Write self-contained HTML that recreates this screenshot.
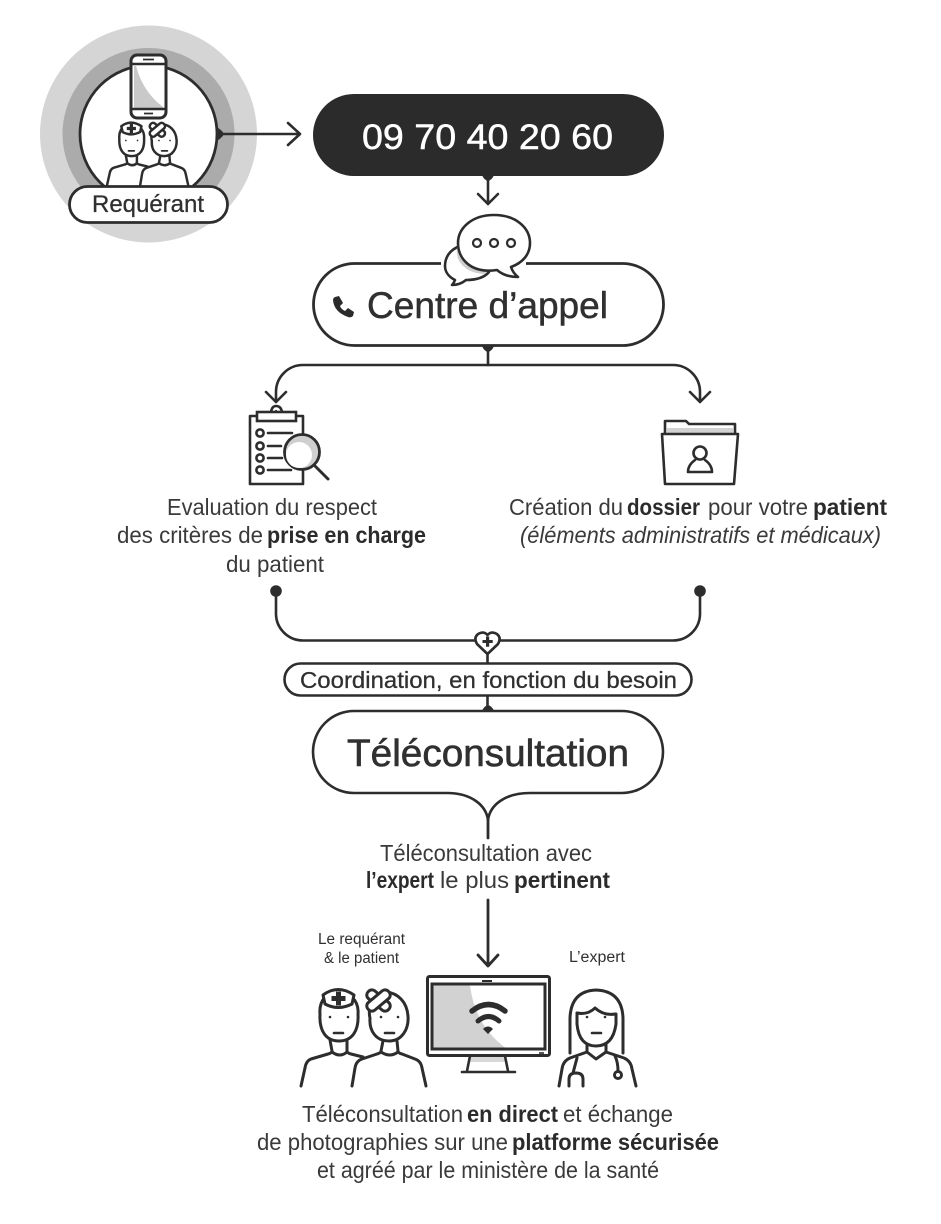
<!DOCTYPE html>
<html lang="fr"><head><meta charset="utf-8"><title>Diagramme</title>
<style>
html,body{margin:0;padding:0;background:#fff}
svg{display:block}
text{font-family:"Liberation Sans",sans-serif;fill:#303030}
.r{font-size:23px;fill:#3a3a3a}
.b{font-size:23px;font-weight:bold;fill:#2b2b2b}
.l{fill:none;stroke:#2d2d2d;stroke-width:2.6;stroke-linecap:round;stroke-linejoin:round}
.t{fill:none;stroke:#2d2d2d;stroke-width:var(--sw,3);stroke-linecap:round;stroke-linejoin:round}
</style></head><body>
<svg width="941" height="1224" viewBox="0 0 941 1224" xmlns="http://www.w3.org/2000/svg">
<defs>
<g id="pair">
  <path class="t" d="M325,997Q319,1004 320,1014C319,1031 326,1041 339,1041C352,1041 359,1031 358,1014Q359,1004 352,997"/>
  <path class="t" style="fill:#fff" d="M325,1004L323,995Q338,984 354,995L352,1004Q338,1011 325,1004Z"/>
  <path d="M336,991.500h5v4.500h4.500v5h-4.500v4.500h-5v-4.500h-4.500v-5h4.500z" fill="#2d2d2d"/>
  <path class="t" d="M330,1040L332,1051Q332,1053 328,1054L311,1059Q306,1061 305,1068L301,1086"/>
  <path class="t" d="M347,1040L347,1051Q347,1053 351,1054L363,1057"/>
  <path class="t" d="M332,1052Q340,1058 347,1052M381,1052Q390,1058 398,1052"/>
  <path class="t" d="M383,1041L381,1051Q381,1053 377,1054L362,1059Q356,1061 355,1068L352,1086"/>
  <path class="t" d="M397,1041L398,1051Q398,1053 402,1054L415,1059Q421,1061 422,1068L426,1086"/>
  <path class="t" style="fill:#fff" d="M372,1000Q368,1010 370,1018C369,1031 376,1041 389,1041C402,1041 409,1029 408,1016C407,1002 398,993 386,992Q378,992 372,1000Z"/>
  <g transform="rotate(40 378.500 1000.500)"><rect class="t" style="fill:#fff" x="365" y="995.500" width="27" height="10" rx="4.500"/></g>
  <g transform="rotate(-40 378.500 1000.500)"><rect class="t" style="fill:#fff" x="365" y="995.500" width="27" height="10" rx="4.500"/></g>
  <circle cx="330" cy="1017" r="1.300" fill="#2d2d2d"/><circle cx="348" cy="1017" r="1.300" fill="#2d2d2d"/>
  <circle cx="381" cy="1017" r="1.300" fill="#2d2d2d"/><circle cx="398" cy="1017" r="1.300" fill="#2d2d2d"/>
  <path class="l" d="M334,1033h9M385,1033h9"/>
</g>
</defs>

<!-- Requérant -->
<circle cx="148.500" cy="134" r="108.500" fill="#d5d5d5"/>
<circle cx="148.500" cy="134" r="86" fill="#ababab"/>
<circle cx="148.500" cy="134" r="68.500" fill="#fff" stroke="#2d2d2d" stroke-width="2.800"/>
<rect x="131" y="55" width="35" height="63" rx="6" fill="#fff" stroke="#2d2d2d" stroke-width="3"/>
<path d="M134,66V108H163V107Q143,92 136,66Z" fill="#c9c9c9"/>
<path d="M131.500,64H165.500M131.500,109H165.500" stroke="#2d2d2d" stroke-width="2.400"/>
<path d="M143,59.500h11M144,113.500h9" stroke="#2d2d2d" stroke-width="1.800"/>
<g transform="translate(107,186) scale(.65) translate(-301,-1087)" style="--sw:3.800"><use href="#pair"/></g>
<rect x="69.500" y="186.500" width="158" height="36" rx="18" fill="#fff" stroke="#2d2d2d" stroke-width="2.800"/>
<text x="92" y="212" font-size="24" textLength="112" lengthAdjust="spacingAndGlyphs" stroke="#303030" stroke-width=".3">Requérant</text>
<path d="M216.500,127Q222,130 224,134Q222,138 216.500,141Z" fill="#2d2d2d"/>
<path class="l" d="M218,134H300M288,123L300,134L288,145"/>

<!-- Phone number -->
<rect x="313" y="94" width="351" height="82" rx="41" fill="#2b2b2b"/>
<text x="362" y="149" font-size="35" style="fill:#fff;stroke:#fff;stroke-width:.5" textLength="251" lengthAdjust="spacingAndGlyphs">09 70 40 20 60</text>
<path d="M482,175H494Q492,180 488,181Q484,180 482,175Z" fill="#2d2d2d"/>
<path class="l" d="M488,176V204M478,194L488,204L498,194"/>

<!-- Centre d'appel -->
<rect x="313.500" y="263.500" width="350" height="82" rx="41" fill="#fff" stroke="#2d2d2d" stroke-width="2.800"/>
<rect x="441" y="258" width="85" height="10" fill="#fff"/>
<path class="l" style="fill:#fff" d="M460,246C449,250 445,258 445,266C445,272 449,277 455,280Q454,283 452,285Q460,285 466,280C476,280 484,278 489,272L470,245Z"/>
<path d="M457,248C455,260 464,273 484,274L490,270C470,270 460,262 458,245Z" fill="#cfcfcf"/>
<path class="l" style="fill:#fff" d="M494,215C516,215 530,228 530,243C530,255 522,263 511,267Q513,273 518,277Q505,277 497,270C470,274 458,258 458,243C458,228 472,215 494,215Z"/>
<circle cx="477" cy="243" r="4" fill="#fff" stroke="#2d2d2d" stroke-width="2.200"/>
<circle cx="494" cy="243" r="4" fill="#fff" stroke="#2d2d2d" stroke-width="2.200"/>
<circle cx="511" cy="243" r="4" fill="#fff" stroke="#2d2d2d" stroke-width="2.200"/>
<path d="M335,297l4,-1l4,7l-3,3q1,3 5,5l3,-3l6,4l-1,4q-2,2 -5,1q-14,-5 -15,-17q0,-2 2,-3z" fill="#2b2b2b"/>
<text x="367" y="318" font-size="37" textLength="241" lengthAdjust="spacingAndGlyphs" stroke="#303030" stroke-width=".5">Centre d’appel</text>

<!-- Branches -->
<path d="M482,346H494Q492,351 488,352Q484,351 482,346Z" fill="#2d2d2d"/>
<path class="l" d="M488,347V365M488,365H303A27,27 0 0 0 276,392V402M266,392L276,402L286,392"/>
<path class="l" d="M488,365H673A27,27 0 0 1 700,392V402M690,392L700,402L710,392"/>

<!-- Clipboard -->
<path class="l" d="M257,416H250V484H303V470M296,416H303V436"/>
<path class="l" d="M271,412Q272,406 276,406Q281,406 282,412"/>
<rect x="257" y="412" width="39" height="9" fill="#fff" stroke="#2d2d2d" stroke-width="2.600"/>
<circle cx="276" cy="411" r="1.100" fill="#2d2d2d"/>
<circle cx="260" cy="433" r="3.600" class="l"/><circle cx="260" cy="446" r="3.600" class="l"/><circle cx="260" cy="458" r="3.600" class="l"/><circle cx="260" cy="470" r="3.600" class="l"/>
<path class="l" d="M268,433H292M268,446H281M268,458H282M268,470H291"/>
<circle cx="302" cy="452" r="17.500" fill="#cfcfcf" stroke="#2d2d2d" stroke-width="2.800"/>
<circle cx="299" cy="455" r="13" fill="#fff"/>
<path class="l" style="stroke-width:3" d="M314,465L328,479"/>

<!-- Folder -->
<path d="M667,428H733V433H667Z" fill="#d2d2d2"/>
<path class="l" d="M665,433V421H686L689,424H735V433"/>
<path class="l" style="fill:#fff" d="M662,434H738L734,484H665Z"/>
<circle cx="700" cy="453" r="6.500" class="l"/>
<path class="l" d="M688,472Q688,465 695,460M712,472Q712,465 705,460M688,472H712"/>

<!-- Texts 1 -->
<text class="r" x="167" y="515" textLength="210" lengthAdjust="spacingAndGlyphs">Evaluation du respect</text>
<text class="r" x="117" y="543" textLength="146" lengthAdjust="spacingAndGlyphs">des critères de</text>
<text class="b" x="267" y="543" textLength="159" lengthAdjust="spacingAndGlyphs">prise en charge</text>
<text class="r" x="226" y="572" textLength="98" lengthAdjust="spacingAndGlyphs">du patient</text>
<text class="r" x="509" y="515" textLength="114" lengthAdjust="spacingAndGlyphs">Création du</text>
<text class="b" x="627" y="515" textLength="73" lengthAdjust="spacingAndGlyphs">dossier</text>
<text class="r" x="708" y="515" textLength="100" lengthAdjust="spacingAndGlyphs">pour votre</text>
<text class="b" x="813" y="515" textLength="74" lengthAdjust="spacingAndGlyphs">patient</text>
<text class="r" x="520" y="543" font-style="italic" textLength="361" lengthAdjust="spacingAndGlyphs">(éléments administratifs et médicaux)</text>

<!-- Merge -->
<circle cx="276" cy="591" r="5.800" fill="#2d2d2d"/><circle cx="700" cy="591" r="5.800" fill="#2d2d2d"/>
<path class="l" d="M276,591V613A27,27 0 0 0 303,640.500H673A27,27 0 0 0 700,613V591"/>
<path class="l" style="fill:#fff" d="M487.500,654L477,644Q473,637 479,633.500Q484,631 487.500,635Q491,631 496,633.500Q502,637 498,644Z"/>
<path d="M486,636.500h3.200v3.500h3.500v3h-3.500v3.700h-3.200v-3.700h-3.500v-3h3.500z" fill="#2d2d2d"/>
<path class="l" d="M487.500,654V664M487.500,696V711"/>
<rect x="284.500" y="663.500" width="407" height="32" rx="16" fill="#fff" stroke="#2d2d2d" stroke-width="2.600"/>
<text x="300" y="688" font-size="23" textLength="377" lengthAdjust="spacingAndGlyphs" stroke="#303030" stroke-width=".3">Coordination, en fonction du besoin</text>

<!-- Téléconsultation -->
<path d="M482,711Q484,706 488,705Q492,706 494,711Z" fill="#2d2d2d"/>
<path class="l" style="fill:#fff" d="M354,711H622A41,41 0 0 1 622,793H530C505,793 490,805 488,820C486,805 471,793 447,793H354A41,41 0 0 1 354,711Z"/>
<path class="l" style="stroke-width:2.800" d="M488,818V838"/>
<text x="347" y="766" font-size="38" textLength="282" lengthAdjust="spacingAndGlyphs" stroke="#303030" stroke-width=".6">Téléconsultation</text>
<text class="r" x="380" y="861" textLength="212" lengthAdjust="spacingAndGlyphs">Téléconsultation avec</text>
<text class="b" x="366" y="888" textLength="68" lengthAdjust="spacingAndGlyphs">l’expert</text>
<text class="r" x="440" y="888" textLength="69" lengthAdjust="spacingAndGlyphs">le plus</text>
<text class="b" x="514" y="888" textLength="96" lengthAdjust="spacingAndGlyphs">pertinent</text>
<path class="l" style="stroke-width:2.800" d="M488,900V965M478,955L488,966L498,955"/>

<!-- small labels -->
<text x="318" y="944" font-size="15.500" textLength="87" lengthAdjust="spacingAndGlyphs">Le requérant</text>
<text x="324" y="963" font-size="15.500" textLength="75" lengthAdjust="spacingAndGlyphs">&amp; le patient</text>
<text x="569" y="962" font-size="15.500" textLength="56" lengthAdjust="spacingAndGlyphs">L’expert</text>

<use href="#pair"/>

<!-- Monitor -->
<rect x="427.500" y="976.500" width="122" height="79" rx="2" fill="#fff" stroke="#2d2d2d" stroke-width="3"/>
<rect x="432" y="984" width="113" height="65" fill="#fff" stroke="#2d2d2d" stroke-width="3"/>
<path d="M433.500,985.500H470Q475,1025 505,1047.500H433.500Z" fill="#d2d2d2"/>
<path d="M482,981h10" stroke="#2d2d2d" stroke-width="2"/>
<path d="M539,1053h5" stroke="#2d2d2d" stroke-width="1.600"/>
<path d="M472,1011Q488.500,998 505,1011" fill="none" stroke="#2d2d2d" stroke-width="5.500" stroke-linecap="round"/>
<path d="M478,1021Q488.500,1012 499,1021" fill="none" stroke="#2d2d2d" stroke-width="5" stroke-linecap="round"/>
<path d="M483,1029Q488,1024 493,1029L488,1034Z" fill="#2d2d2d"/>
<path d="M471,1057H506L507,1062H470Z" fill="#d8d8d8"/>
<path class="l" d="M470,1056L467,1071M505,1056L508,1071M462,1072H515"/>

<!-- Expert -->
<path class="t" d="M570,1053V1018Q571,991 596,990Q622,991 623,1018V1053"/>
<path class="t" d="M577,1013Q588,1015 595,1008Q604,1016 615,1014"/>
<path class="t" d="M577,1013V1024Q579,1046 596,1046Q613,1046 616,1024V1014"/>
<path class="t" d="M587,1045V1052L596,1059L606,1052V1045"/>
<path class="t" d="M587,1052L570,1058Q563,1061 562,1069L559,1086M606,1052L624,1058Q631,1061 632,1069L636,1086"/>
<path class="t" d="M577,1058L573,1073M569,1086V1079Q569,1073 576,1073Q583,1073 583,1079V1086"/>
<path class="t" d="M615,1056Q618,1062 618,1071"/>
<circle cx="618" cy="1075" r="3.500" class="t"/>
<circle cx="587" cy="1017" r="1.300" fill="#2d2d2d"/><circle cx="605" cy="1017" r="1.300" fill="#2d2d2d"/>
<path class="l" d="M592,1033h9"/>

<!-- Bottom text -->
<text class="r" x="302" y="1122" textLength="161" lengthAdjust="spacingAndGlyphs">Téléconsultation</text>
<text class="b" x="467" y="1122" textLength="91" lengthAdjust="spacingAndGlyphs">en direct</text>
<text class="r" x="563" y="1122" textLength="110" lengthAdjust="spacingAndGlyphs">et échange</text>
<text class="r" x="257" y="1150" textLength="251" lengthAdjust="spacingAndGlyphs">de photographies sur une</text>
<text class="b" x="512" y="1150" textLength="207" lengthAdjust="spacingAndGlyphs">platforme sécurisée</text>
<text class="r" x="317" y="1178" textLength="342" lengthAdjust="spacingAndGlyphs">et agréé par le ministère de la santé</text>
</svg>
</body></html>
